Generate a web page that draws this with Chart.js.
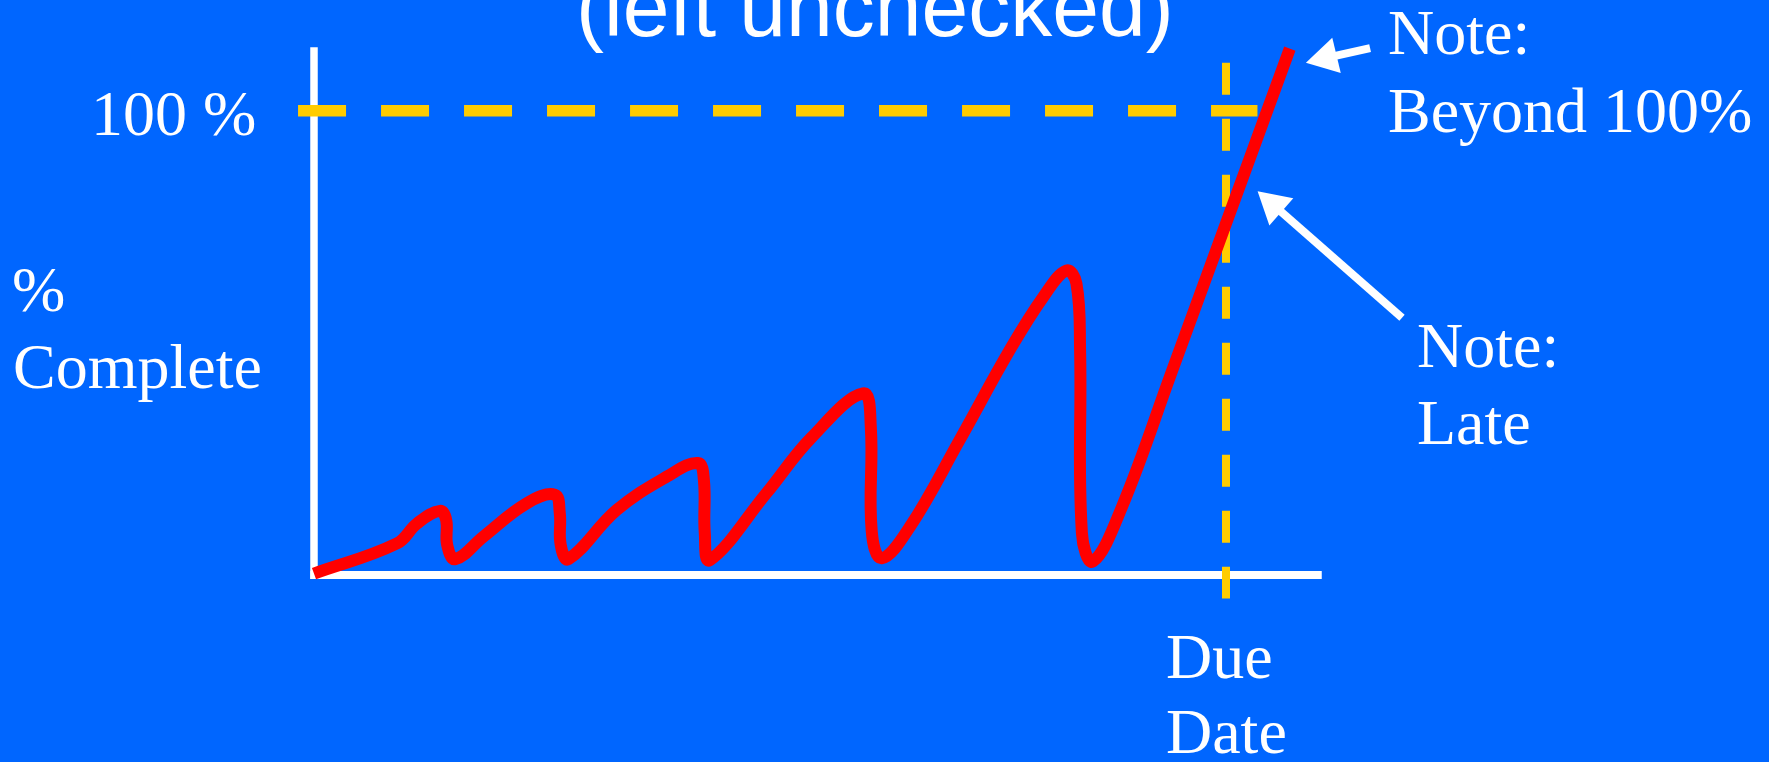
<!DOCTYPE html>
<html>
<head>
<meta charset="utf-8">
<script src="https://cdn.jsdelivr.net/npm/chart.js@4.4.1/dist/chart.umd.min.js"></script>
<style>
  html, body { margin: 0; padding: 0; background: #0066FF; overflow: hidden; }
  canvas { display: block; }
</style>
</head>
<body>
<canvas id="chart" width="1769" height="762"></canvas>
<script>
// ---- data (x: % of scheduled time, due date = 100; y: % complete) ----
const progressTime = [0, 9.1, 11.3, 13.8, 14.5, 14.6, 15.5, 18.6, 23.3, 26.4, 26.95, 27.05, 27.9,
  33.2, 38.7, 42.1, 42.75, 42.85, 43.4, 49.6, 54.5, 60.2, 61.05, 61.15, 62.25,
  65.35, 70.8, 76.3, 80.0, 82.5, 83.6, 84.0, 84.2, 85.4, 88.6, 94.0, 107.0];
const progressComplete = [0.3, 6.8, 11.1, 13.8, 11.8, 6.5, 3.4, 8.3, 15.4, 17.3, 13.3, 6.5, 3.4,
  14.0, 21.2, 24.1, 20.5, 9.0, 3.2, 17.6, 29.5, 39.1, 32.0, 9.5, 3.6,
  10.4, 29.1, 48.5, 60.0, 65.6, 62.8, 48.5, 9.0, 2.9, 14.7, 43.5, 113.4];

const targetLevel = 100;            // 100 % complete
const targetSpan = [-1.75, 103.45]; // extent of the 100 % dashed line (time units)
const dueDate = 100;                // due date on time axis
const dueSpan = [110.36, -5.1];     // extent of the due-date dashed line (% units)
const xAxisEnds = [-0.4, 110.5];
const yAxisEnds = [-0.9, 113.7];

// annotation arrows: [tailX, tailY, headX, headY]
const arrowBeyond = [115.8, 113.5, 111.0, 111.4];
const arrowLate = [119.3, 55.4, 105.2, 79.7];
const arrowRotations = [256.5, 311.1];

const titleText = '(left unchecked)';
const yLabelLines = ['%', 'Complete'];
const tickLabel = '100 %';
const dueLabelLines = ['Due', 'Date'];
const noteBeyondLines = ['Note:', 'Beyond 100%'];
const noteLateLines = ['Note:', 'Late'];

// ---- build ----
const pts = (xs, ys) => xs.map((x, i) => ({ x, y: ys[i] }));

const datasets = [
  { // progress curve
    data: pts(progressTime, progressComplete),
    borderColor: '#FF0000', borderWidth: 12, pointRadius: 0,
    tension: 0.4, cubicInterpolationMode: 'default',
    borderJoinStyle: 'round', borderCapStyle: 'butt',
    order: 0
  },
  { // arrow heads
    data: [{ x: arrowBeyond[2], y: arrowBeyond[3] }, { x: arrowLate[2], y: arrowLate[3] }],
    showLine: false, pointStyle: 'triangle', pointRadius: 21, pointRotation: arrowRotations,
    pointBackgroundColor: '#FFFFFF', pointBorderWidth: 0, pointBorderColor: '#FFFFFF',
    order: 1
  },
  { // arrow shaft 1
    data: [{ x: arrowBeyond[0], y: arrowBeyond[1] }, { x: arrowBeyond[2], y: arrowBeyond[3] }],
    borderColor: '#FFFFFF', borderWidth: 8, pointRadius: 0, order: 2
  },
  { // arrow shaft 2
    data: [{ x: arrowLate[0], y: arrowLate[1] }, { x: arrowLate[2], y: arrowLate[3] }],
    borderColor: '#FFFFFF', borderWidth: 8, pointRadius: 0, order: 3
  },
  { // due date dashed line
    data: [{ x: dueDate, y: dueSpan[0] }, { x: dueDate, y: dueSpan[1] }],
    borderColor: '#FFCC00', borderWidth: 8, borderDash: [32, 24], pointRadius: 0, order: 4
  },
  { // 100 % dashed line
    data: [{ x: targetSpan[0], y: targetLevel }, { x: targetSpan[1], y: targetLevel }],
    borderColor: '#FFCC00', borderWidth: 11.5, borderDash: [48, 35], pointRadius: 0, order: 5
  },
  { // y axis
    data: [{ x: 0, y: yAxisEnds[0] }, { x: 0, y: yAxisEnds[1] }],
    borderColor: '#FFFFFF', borderWidth: 7.5, pointRadius: 0, order: 6
  },
  { // x axis
    data: [{ x: xAxisEnds[0], y: 0 }, { x: xAxisEnds[1], y: 0 }],
    borderColor: '#FFFFFF', borderWidth: 8, pointRadius: 0, order: 7
  }
];

const bgPlugin = {
  id: 'bg',
  beforeDraw(chart) {
    const { ctx, width, height } = chart;
    ctx.save();
    ctx.fillStyle = '#0066FF';
    ctx.fillRect(0, 0, width, height);
    ctx.restore();
  }
};

const textPlugin = {
  id: 'texts',
  afterDatasetsDraw(chart) {
    const { ctx } = chart;
    const xs = chart.scales.x, ys = chart.scales.y;
    const px = v => xs.getPixelForValue(v);
    const py = v => ys.getPixelForValue(v);
    ctx.save();
    ctx.fillStyle = '#FFFFFF';
    ctx.textBaseline = 'alphabetic';
    ctx.textAlign = 'left';
    ctx.font = "84px 'Liberation Sans', Arial, sans-serif";
    ctx.fillText(titleText, 576, 36);

    ctx.font = "64px 'Liberation Serif', 'Times New Roman', serif";
    // tick label for 100 %
    ctx.fillText(tickLabel, 91, py(targetLevel) + 24.5);
    // y axis title
    ctx.fillText(yLabelLines[0], 12, 311);
    ctx.fillText(yLabelLines[1], 13, 388);
    // due date label
    ctx.fillText(dueLabelLines[0], px(dueDate) - 60, 678);
    ctx.fillText(dueLabelLines[1], px(dueDate) - 60, 753);
    // notes
    ctx.fillText(noteBeyondLines[0], 1388, 54);
    ctx.fillText(noteBeyondLines[1], 1388, 131.5);
    ctx.fillText(noteLateLines[0], 1417, 367);
    ctx.fillText(noteLateLines[1], 1417, 443.5);
    ctx.restore();
  }
};

new Chart(document.getElementById('chart'), {
  type: 'line',
  data: { datasets },
  options: {
    responsive: false,
    animation: false,
    events: [],
    layout: { padding: 0, autoPadding: false },
    plugins: { legend: { display: false }, title: { display: false }, tooltip: { enabled: false } },
    scales: {
      x: { type: 'linear', display: false, min: -34.43, max: 159.54 },
      y: { type: 'linear', display: false, min: -40.30, max: 123.87 }
    }
  },
  plugins: [bgPlugin, textPlugin]
});
</script>
</body>
</html>
